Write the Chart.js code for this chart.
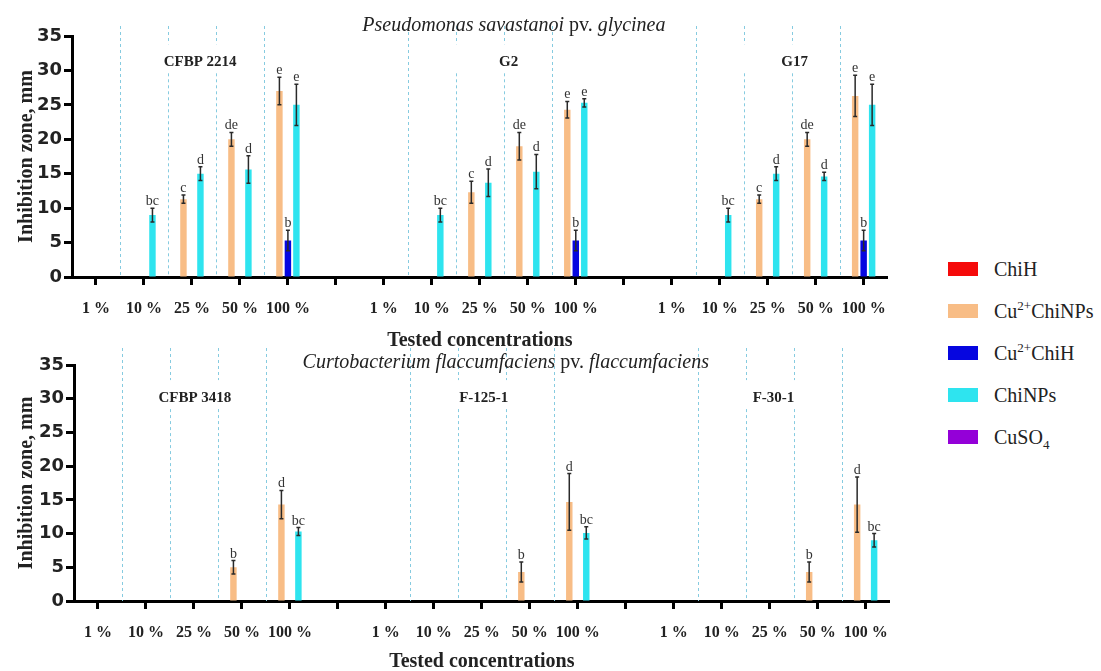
<!DOCTYPE html>
<html>
<head>
<meta charset="utf-8">
<script src="https://cdn.jsdelivr.net/npm/chart.js@4/dist/chart.umd.min.js"></script>
<style>
  body { margin: 0; background: #fff; width: 1101px; height: 671px; position: relative; overflow: hidden; }
  canvas { position: absolute; left: 0; }
  #topChart { top: 0; }
  #bottomChart { top: 330px; }
  #legend { position: absolute; left: 948px; top: 248px; font-family: 'Liberation Serif', serif; font-size: 20px; color: #222; }
  .item { display: flex; align-items: center; height: 42px; white-space: nowrap; }
  .swatch { width: 30px; height: 14px; margin-right: 16px; }
  sup, sub { font-size: 13px; line-height: 0; }
</style>
</head>
<body>
<canvas id="topChart" width="900" height="353"></canvas>
<canvas id="bottomChart" width="902" height="344"></canvas>
<div id="legend"></div>

<script>
// Categories (three strains x five concentrations, blank slot between strains)
const concLabels = ['1 %', '10 %', '25 %', '50 %', '100 %', '',
                    '1 %', '10 %', '25 %', '50 %', '100 %', '',
                    '1 %', '10 %', '25 %', '50 %', '100 %'];

const seriesNames = ['ChiH', 'Cu2+ChiNPs', 'Cu2+ChiH', 'ChiNPs', 'CuSO4'];
const legendNames = ['ChiH', 'Cu<sup>2+</sup>ChiNPs', 'Cu<sup>2+</sup>ChiH', 'ChiNPs', 'CuSO<sub>4</sub>'];
const seriesColors = ['#f50a0a', '#f8bd86', '#0606e0', '#2ee4ef', '#9400d8'];

// Pseudomonas savastanoi pv. glycinea
const psgStrains = ['CFBP 2214', 'G2', 'G17'];
const psgChiH      = [0, 0, 0, 0, 0, 0, 0, 0, 0, 0, 0, 0, 0, 0, 0, 0, 0];
const psgCuNPs     = [0, 0, 11.3, 20, 27, 0, 0, 0, 12.3, 19, 24.3, 0, 0, 0, 11.3, 20, 26.3];
const psgCuNPsErr  = [0, 0, 0.6, 1, 2, 0, 0, 0, 1.6, 2, 1.2, 0, 0, 0, 0.6, 1, 3];
const psgCuNPsSig  = ['', '', 'c', 'de', 'e', '', '', '', 'c', 'de', 'e', '', '', '', 'c', 'de', 'e'];
const psgCuChiH    = [0, 0, 0, 0, 5.3, 0, 0, 0, 0, 0, 5.3, 0, 0, 0, 0, 0, 5.3];
const psgCuChiHErr = [0, 0, 0, 0, 1.5, 0, 0, 0, 0, 0, 1.5, 0, 0, 0, 0, 0, 1.5];
const psgCuChiHSig = ['', '', '', '', 'b', '', '', '', '', '', 'b', '', '', '', '', '', 'b'];
const psgNPs       = [0, 9, 15, 15.6, 25, 0, 0, 9, 13.7, 15.3, 25.3, 0, 0, 9, 15, 14.6, 25];
const psgNPsErr    = [0, 1, 1, 2, 3, 0, 0, 1, 2, 2.5, 0.6, 0, 0, 1, 1, 0.6, 3];
const psgNPsSig    = ['', 'bc', 'd', 'd', 'e', '', '', 'bc', 'd', 'd', 'e', '', '', 'bc', 'd', 'd', 'e'];
const psgCuSO4     = [0, 0, 0, 0, 0, 0, 0, 0, 0, 0, 0, 0, 0, 0, 0, 0, 0];

// Curtobacterium flaccumfaciens pv. flaccumfaciens
const cffStrains = ['CFBP 3418', 'F-125-1', 'F-30-1'];
const cffChiH      = [0, 0, 0, 0, 0, 0, 0, 0, 0, 0, 0, 0, 0, 0, 0, 0, 0];
const cffCuNPs     = [0, 0, 0, 5, 14.3, 0, 0, 0, 0, 4.3, 14.7, 0, 0, 0, 0, 4.3, 14.3];
const cffCuNPsErr  = [0, 0, 0, 1, 2.1, 0, 0, 0, 0, 1.5, 4.2, 0, 0, 0, 0, 1.5, 4.1];
const cffCuNPsSig  = ['', '', '', 'b', 'd', '', '', '', '', 'b', 'd', '', '', '', '', 'b', 'd'];
const cffCuChiH    = [0, 0, 0, 0, 0, 0, 0, 0, 0, 0, 0, 0, 0, 0, 0, 0, 0];
const cffNPs       = [0, 0, 0, 0, 10.3, 0, 0, 0, 0, 0, 10.1, 0, 0, 0, 0, 0, 9];
const cffNPsErr    = [0, 0, 0, 0, 0.6, 0, 0, 0, 0, 0, 0.9, 0, 0, 0, 0, 0, 1];
const cffNPsSig    = ['', '', '', '', 'bc', '', '', '', '', '', 'bc', '', '', '', '', '', 'bc'];
const cffCuSO4     = [0, 0, 0, 0, 0, 0, 0, 0, 0, 0, 0, 0, 0, 0, 0, 0, 0];

const yTicks = { min: 0, max: 35, step: 5 };

const SERIF = "'Liberation Serif', serif";
const INK = '#222';

// Draws dashed separators, strain names, panel title, error bars and letters
const markupPlugin = {
  id: 'markup',
  beforeDatasetsDraw(chart, args, opts) {
    const { ctx, scales: { x, y } } = chart;
    const top = chart.chartArea.top - opts.lineExt;
    const bottom = y.getPixelForValue(0);
    const labelY = y.getPixelForValue(opts.strainY);
    ctx.save();
    ctx.strokeStyle = '#86cbe0';
    ctx.lineWidth = 1;
    ctx.setLineDash([3, 3]);
    [0, 6, 12].forEach(g => {
      [0, 1, 2, 3].forEach(k => {
        const px = Math.round((x.getPixelForValue(g + k) + x.getPixelForValue(g + k + 1)) / 2) + 0.5;
        ctx.beginPath();
        if (k === 1 || k === 2) {
          ctx.moveTo(px, top); ctx.lineTo(px, labelY - 22);
          ctx.moveTo(px, labelY + 7); ctx.lineTo(px, bottom);
        } else {
          ctx.moveTo(px, top); ctx.lineTo(px, bottom);
        }
        ctx.stroke();
      });
    });
    ctx.restore();
  },
  afterDatasetsDraw(chart, args, opts) {
    const { ctx, scales: { x, y } } = chart;
    ctx.save();

    // error bars + significance letters
    opts.errors.forEach(({ ds, err, sig }) => {
      const meta = chart.getDatasetMeta(ds);
      const vals = chart.data.datasets[ds].data;
      err.forEach((e, i) => {
        if (!e) return;
        const bx = meta.data[i].x;
        const yTop = y.getPixelForValue(vals[i] + e);
        const yBot = y.getPixelForValue(vals[i] - e);
        ctx.strokeStyle = '#2a2a2a';
        ctx.lineWidth = 1.5;
        ctx.beginPath();
        ctx.moveTo(bx, yTop); ctx.lineTo(bx, yBot);
        ctx.moveTo(bx - 2, yTop); ctx.lineTo(bx + 2, yTop);
        ctx.moveTo(bx - 2, yBot); ctx.lineTo(bx + 2, yBot);
        ctx.stroke();
        if (sig[i]) {
          ctx.fillStyle = '#333';
          ctx.font = '14px ' + SERIF;
          ctx.textAlign = 'center';
          ctx.textBaseline = 'alphabetic';
          ctx.fillText(sig[i], bx, yTop - 3);
        }
      });
    });

    // strain names
    ctx.fillStyle = INK;
    ctx.font = 'bold 15px ' + SERIF;
    ctx.textAlign = 'center';
    ctx.textBaseline = 'alphabetic';
    opts.strains.forEach((s, i) => {
      ctx.fillText(s, x.getPixelForValue(opts.strainAt[i]), y.getPixelForValue(opts.strainY));
    });

    // panel title: italic species, upright "pv."
    const parts = opts.title;
    const fonts = parts.map(p => (p.italic ? 'italic ' : '') + '20px ' + SERIF);
    let total = 0;
    const widths = parts.map((p, i) => { ctx.font = fonts[i]; const w = ctx.measureText(p.text).width; total += w; return w; });
    let tx = x.getPixelForValue(opts.titleAt) - total / 2;
    const ty = y.getPixelForValue(opts.titleY);
    ctx.textAlign = 'left';
    parts.forEach((p, i) => {
      ctx.font = fonts[i];
      ctx.fillText(p.text, tx, ty);
      tx += widths[i];
    });
    ctx.restore();
  }
};

function makeDatasets(series) {
  return series.map((data, i) => ({
    label: seriesNames[i],
    data: data,
    backgroundColor: seriesColors[i],
    borderWidth: 0,
    categoryPercentage: 0.885,
    barPercentage: 0.76
  }));
}

function makeChart(canvasId, series, markup, box) {
  return new Chart(document.getElementById(canvasId), {
    type: 'bar',
    data: { labels: concLabels, datasets: makeDatasets(series) },
    plugins: [markupPlugin],
    options: {
      responsive: false,
      animation: false,
      layout: { padding: { top: box.top, right: box.right, left: 0, bottom: 0 } },
      plugins: {
        legend: { display: false },
        tooltip: { enabled: false },
        markup: markup
      },
      scales: {
        x: {
          afterFit: s => { s.height = box.xHeight; },
          border: { color: '#000', width: 3 },
          grid: { drawOnChartArea: false, offset: false, tickLength: 8, tickWidth: 3, tickColor: '#000' },
          ticks: { autoSkip: false, maxRotation: 0, padding: 14, color: INK, font: { family: SERIF, size: 16, weight: 'bold' } },
          title: { display: true, text: 'Tested concentrations', color: INK, padding: { top: 4, bottom: 0 },
                   font: { family: SERIF, size: 20, weight: 'bold' } }
        },
        y: {
          min: yTicks.min,
          max: yTicks.max,
          afterFit: s => { s.width = box.yWidth; },
          border: { color: '#000', width: 3 },
          grid: { drawOnChartArea: false, tickLength: 8, tickWidth: 3, tickColor: '#000' },
          ticks: { stepSize: yTicks.step, padding: 2, color: INK, font: { family: 'DejaVu Sans', size: 18, weight: 'bold' } },
          title: { display: true, text: 'Inhibition zone, mm', color: INK, padding: { top: 15, bottom: 0 },
                   font: { family: SERIF, size: 20, weight: 'bold' } }
        }
      }
    }
  });
}

makeChart('topChart',
  [psgChiH, psgCuNPs, psgCuChiH, psgNPs, psgCuSO4],
  {
    strains: psgStrains, strainAt: [2.17, 8.6, 14.56], strainY: 30.6,
    title: [{ text: 'Pseudomonas savastanoi ', italic: true }, { text: 'pv. ', italic: false }, { text: 'glycinea', italic: true }],
    titleAt: 8.71, titleY: 35.7, lineExt: 10,
    errors: [
      { ds: 1, err: psgCuNPsErr, sig: psgCuNPsSig },
      { ds: 2, err: psgCuChiHErr, sig: psgCuChiHSig },
      { ds: 3, err: psgNPsErr, sig: psgNPsSig }
    ]
  },
  { top: 36, right: 12, yWidth: 72, xHeight: 76 });

makeChart('bottomChart',
  [cffChiH, cffCuNPs, cffCuChiH, cffNPs, cffCuSO4],
  {
    strains: cffStrains, strainAt: [2.02, 8.04, 14.08], strainY: 29.5,
    title: [{ text: 'Curtobacterium flaccumfaciens ', italic: true }, { text: 'pv. ', italic: false }, { text: 'flaccumfaciens', italic: true }],
    titleAt: 8.5, titleY: 34.6, lineExt: 17,
    errors: [
      { ds: 1, err: cffCuNPsErr, sig: cffCuNPsSig },
      { ds: 3, err: cffNPsErr, sig: cffNPsSig }
    ]
  },
  { top: 35, right: 12, yWidth: 74, xHeight: 73 });

// HTML legend
const legend = document.getElementById('legend');
legendNames.forEach((name, i) => {
  const row = document.createElement('div');
  row.className = 'item';
  row.innerHTML = `<span class="swatch" style="background:${seriesColors[i]}"></span><span>${name}</span>`;
  legend.appendChild(row);
});
</script>
</body>
</html>
